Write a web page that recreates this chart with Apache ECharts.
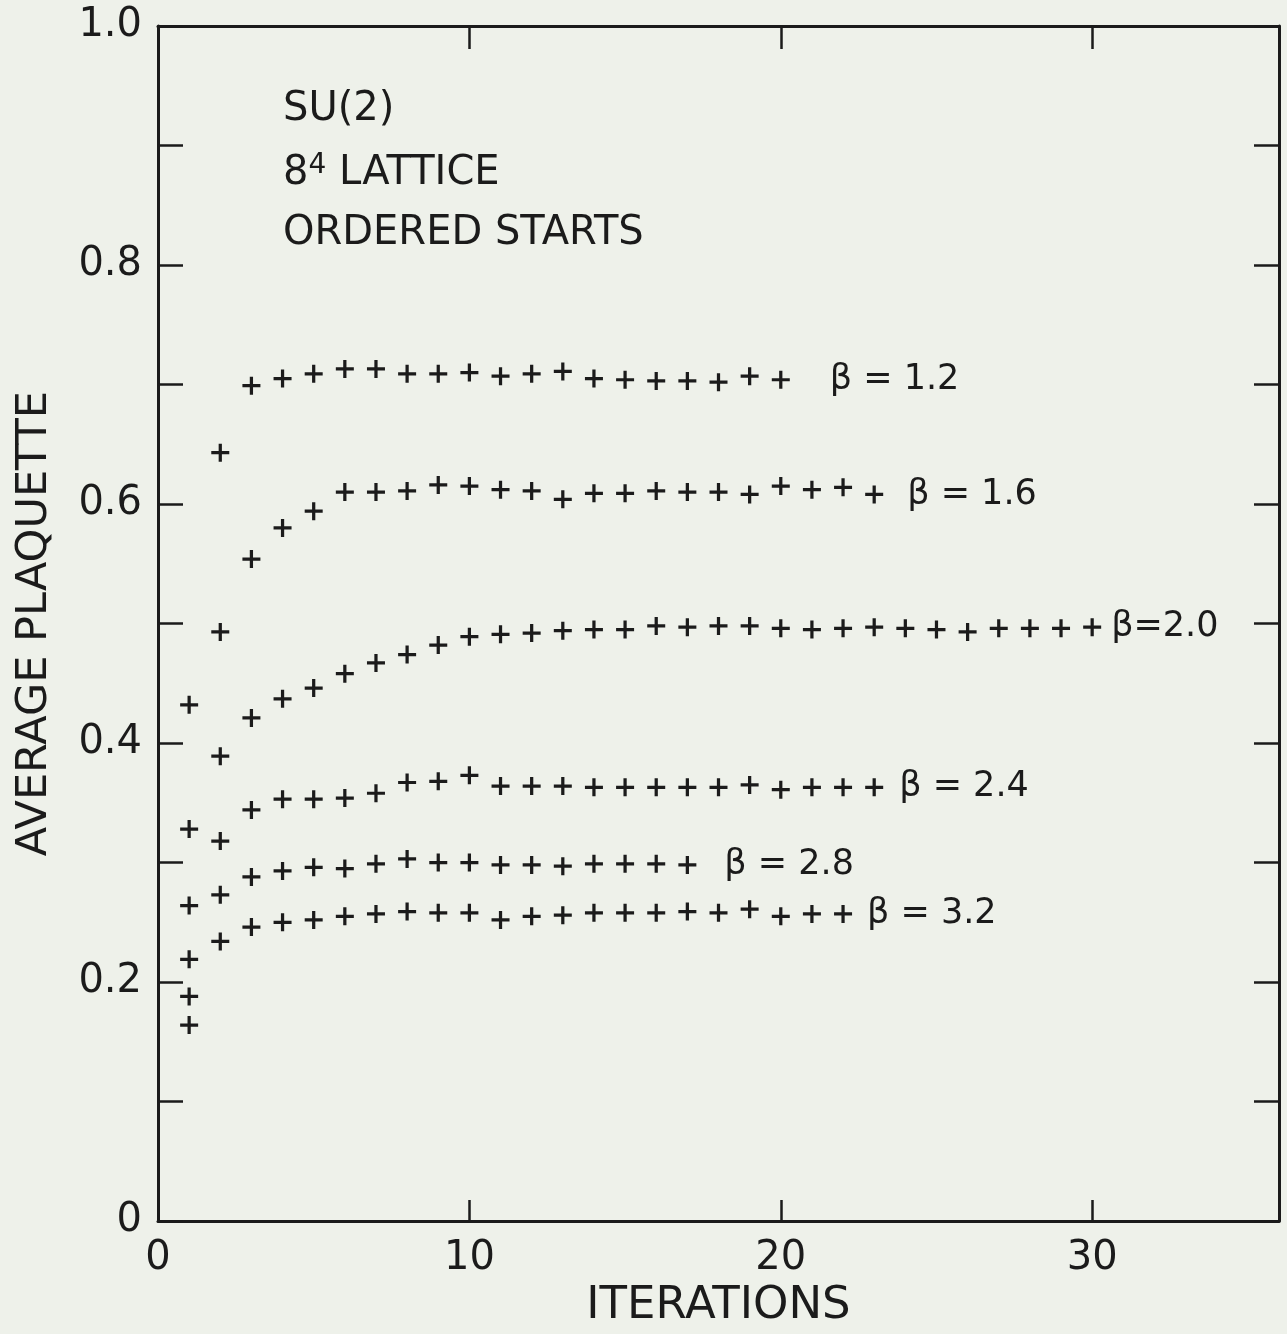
<!DOCTYPE html>
<html>
<head>
<meta charset="utf-8">
<title>SU(2) average plaquette</title>
<script src="https://cdn.jsdelivr.net/npm/echarts@6/dist/echarts.min.js"></script>
<style>
  html, body { margin: 0; padding: 0; background: #eef1ea; }
  #chart { width: 1287px; height: 1334px; }
</style>
</head>
<body>
<div id="chart"></div>
<script>
// average plaquette per iteration (iteration = index + 1)
var beta12 = [0.432, 0.643, 0.699, 0.705, 0.709, 0.713, 0.713, 0.709, 0.709, 0.710,
              0.707, 0.709, 0.711, 0.705, 0.704, 0.703, 0.703, 0.702, 0.707, 0.704];
var beta16 = [0.328, 0.493, 0.554, 0.580, 0.594, 0.610, 0.610, 0.611, 0.616, 0.615,
              0.612, 0.611, 0.604, 0.609, 0.609, 0.611, 0.610, 0.610, 0.608, 0.615,
              0.612, 0.614, 0.608];
var beta20 = [0.264, 0.389, 0.421, 0.437, 0.446, 0.458, 0.467, 0.474, 0.482, 0.489,
              0.491, 0.492, 0.494, 0.495, 0.495, 0.498, 0.497, 0.498, 0.498, 0.496,
              0.495, 0.496, 0.497, 0.496, 0.495, 0.493, 0.496, 0.496, 0.496, 0.497];
var beta24 = [0.219, 0.318, 0.344, 0.353, 0.353, 0.354, 0.358, 0.367, 0.368, 0.373,
              0.364, 0.364, 0.364, 0.363, 0.363, 0.363, 0.363, 0.363, 0.365, 0.361,
              0.363, 0.363, 0.363];
var beta28 = [0.188, 0.273, 0.288, 0.293, 0.296, 0.295, 0.299, 0.303, 0.300, 0.300,
              0.298, 0.298, 0.297, 0.299, 0.299, 0.299, 0.298];
var beta32 = [0.164, 0.234, 0.246, 0.250, 0.252, 0.255, 0.257, 0.259, 0.258, 0.258,
              0.252, 0.255, 0.256, 0.258, 0.258, 0.258, 0.259, 0.258, 0.261, 0.255,
              0.257, 0.257];
var betaNames = ['β = 1.2', 'β = 1.6', 'β=2.0', 'β = 2.4', 'β = 2.8', 'β = 3.2'];
var xTicks = [0, 10, 20, 30];
var notes = ['SU(2)', '8{sup|4} LATTICE', 'ORDERED STARTS'];

var ink = '#1b1b1b';
var font = '"DejaVu Sans", sans-serif';
// 加号形状的标记
var plus = 'path://M4.1,0H5.9V4.1H10V5.9H5.9V10H4.1V5.9H0V4.1H4.1Z';
// 标签离最后一个点的距离
var labelGap = [40, 24, 10, 16, 28, 15];

var chart = echarts.init(document.getElementById('chart'));

function makeSeries(values, idx) {
    var data = values.map(function (v, i) {
        var item = { value: [i + 1, v] };
        if (i === values.length - 1) {
            item.label = {
                show: true,
                position: 'right',
                distance: labelGap[idx],
                formatter: betaNames[idx],
                color: ink,
                fontSize: 35,
                fontFamily: font
            };
        }
        return item;
    });
    return {
        name: betaNames[idx],
        type: 'scatter',
        symbol: plus,
        symbolSize: 18,
        itemStyle: { color: ink, opacity: 1 },
        emphasis: { disabled: true },
        data: data
    };
}

var frameLine = { show: true, onZero: false, lineStyle: { color: ink, width: 3 } };
var tickStyle = { color: ink, width: 2.5 };

var option = {
    backgroundColor: '#eef1ea',
    animation: false,
    grid: { left: 158, right: 8, top: 26, bottom: 106 },
    xAxis: [{
        type: 'value', position: 'bottom', min: 0, max: 36, interval: 10,
        axisLine: frameLine,
        axisTick: { inside: true, length: 21, lineStyle: tickStyle },
        axisLabel: {
            margin: 18, color: ink, fontSize: 40, fontFamily: font,
            formatter: function (v) { return xTicks.indexOf(v) >= 0 ? String(v) : ''; }
        },
        splitLine: { show: false },
        name: 'ITERATIONS', nameLocation: 'middle', nameGap: 58,
        nameTextStyle: { color: ink, fontSize: 45, fontFamily: font }
    }, {
        type: 'value', position: 'top', min: 0, max: 36, interval: 10,
        axisLine: frameLine,
        axisTick: { inside: true, length: 23, lineStyle: tickStyle },
        axisLabel: { show: false },
        splitLine: { show: false }
    }],
    yAxis: [{
        type: 'value', position: 'left', min: 0, max: 1, interval: 0.1,
        axisLine: frameLine,
        axisTick: { inside: true, length: 25, lineStyle: tickStyle },
        axisLabel: {
            margin: 16, color: ink, fontSize: 40, fontFamily: font,
            formatter: function (v) {
                var k = Math.round(v * 10);
                if (k % 2 !== 0) return '';
                if (k === 0) return '0';
                return (k / 10).toFixed(1);
            }
        },
        splitLine: { show: false },
        name: 'AVERAGE PLAQUETTE', nameLocation: 'middle', nameGap: 102,
        nameTextStyle: { color: ink, fontSize: 43, fontFamily: font }
    }, {
        type: 'value', position: 'right', min: 0, max: 1, interval: 0.1,
        axisLine: frameLine,
        axisTick: { inside: true, length: 25, lineStyle: tickStyle },
        axisLabel: { show: false },
        splitLine: { show: false }
    }],
    graphic: notes.map(function (t, i) {
        return {
            type: 'text',
            left: 283,
            top: 90 + i * 62,
            style: {
                text: t,
                fill: ink,
                font: '40px ' + font,
                rich: {
                    sup: { fontSize: 28, fontFamily: font, fill: ink, verticalAlign: 'top', padding: [0, 0, 16, 0] }
                }
            }
        };
    }),
    series: [beta12, beta16, beta20, beta24, beta28, beta32].map(makeSeries)
};

chart.setOption(option);
</script>
</body>
</html>
